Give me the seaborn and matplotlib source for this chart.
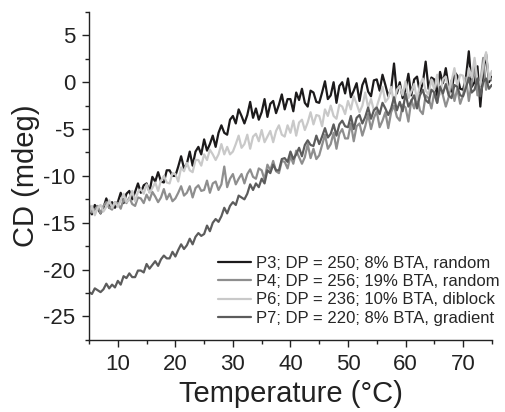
import matplotlib
matplotlib.use("Agg")
import matplotlib.pyplot as plt
from matplotlib.ticker import MultipleLocator
import numpy as np
import pandas as pd
import seaborn as sns

# temperature grid of the scans (degC), 0.5 degC steps
temperature = np.linspace(5, 75, 141)

p3 = [-13.6, -14.1, -13.1, -13.5, -14.0, -13.4, -12.4, -13.4, -12.8, -13.4,
      -12.8, -11.8, -12.9, -11.9, -11.6, -12.5, -11.7, -10.8, -11.8, -11.0,
      -10.8, -11.7, -10.1, -10.6, -9.6, -10.6, -10.7, -9.4, -9.4, -10.0,
      -10.0, -9.0, -7.9, -9.2, -8.7, -7.4, -8.9, -7.4, -6.9, -7.7,
      -6.1, -7.3, -6.6, -5.7, -6.9, -5.4, -4.6, -5.4, -5.6, -4.0,
      -3.6, -4.4, -2.9, -3.6, -4.4, -3.5, -2.1, -3.8, -2.8, -4.0,
      -3.2, -1.8, -3.7, -2.3, -2.0, -3.3, -2.4, -1.3, -2.9, -1.8,
      -1.8, -3.1, -1.1, -1.9, -0.7, -2.2, -2.6, -0.9, -1.1, -2.1,
      -2.2, -1.1, 0.1, -1.8, -1.4, 0.0, -2.2, -0.4, 0.0, -1.2,
      0.4, -1.6, -0.9, -0.1, -2.0, -0.3, 0.4, -1.0, -1.5, 0.2,
      0.3, -0.9, 0.8, -0.3, -1.5, -0.7, 2.0, -1.2, 0.0, -1.7,
      -0.8, 0.9, -1.4, 0.3, 0.6, -1.1, -0.1, 2.2, -0.7, 0.5,
      0.3, -1.5, 1.1, -0.1, 1.5, -0.5, -1.0, 1.1, 0.7, -0.7,
      -0.8, 0.5, 3.3, -0.5, 0.0, 1.7, -2.6, 1.1, 3.0, 0.0,
      0.6]

p4 = [-13.1, -13.9, -13.6, -13.2, -14.0, -13.2, -12.8, -13.4, -13.6, -12.8,
      -12.9, -13.5, -12.5, -12.9, -12.3, -13.0, -13.2, -12.3, -12.4, -12.9,
      -12.0, -12.6, -11.7, -12.2, -12.8, -12.3, -11.4, -12.5, -11.9, -12.7,
      -12.4, -11.8, -11.1, -12.1, -11.8, -11.1, -12.3, -11.3, -11.0, -11.6,
      -11.5, -10.5, -11.8, -10.8, -10.6, -11.5, -10.9, -9.0, -11.2, -10.3,
      -9.8, -10.9, -10.3, -9.8, -10.8, -9.8, -9.3, -10.1, -10.3, -9.2,
      -9.4, -10.4, -8.8, -9.4, -8.4, -9.5, -9.7, -8.4, -8.5, -9.2,
      -7.9, -8.7, -7.3, -8.0, -8.7, -8.0, -6.6, -8.1, -7.1, -8.2,
      -7.8, -6.7, -5.6, -7.1, -6.6, -5.4, -7.1, -5.5, -5.0, -6.0,
      -6.0, -4.4, -6.3, -4.7, -4.4, -5.7, -4.7, -3.4, -5.0, -3.8,
      -3.1, -4.8, -4.1, -3.2, -4.9, -3.2, -2.5, -3.7, -4.1, -2.4,
      -2.7, -4.2, -1.9, -2.8, -1.4, -3.0, -3.4, -1.4, -1.7, -2.8,
      -1.1, -2.2, -0.4, -1.4, -2.6, -1.6, 0.2, -2.0, -0.7, -2.3,
      -1.4, 0.5, -2.0, -0.1, 1.8, -1.4, -0.2, 2.6, -0.8, 0.7,
      0.2]

p6 = [-14.0, -13.2, -14.2, -13.4, -13.1, -13.8, -13.3, -12.6, -13.4, -12.8,
      -13.3, -12.6, -11.9, -12.8, -12.5, -11.6, -12.7, -11.7, -11.4, -11.9,
      -10.9, -11.8, -11.3, -10.7, -11.6, -10.5, -10.0, -10.7, -10.8, -9.7,
      -9.8, -10.6, -9.1, -9.5, -8.6, -9.4, -9.6, -8.3, -8.3, -8.9,
      -7.7, -8.3, -7.2, -7.7, -8.3, -7.7, -6.6, -7.7, -6.9, -7.7,
      -7.4, -6.6, -5.7, -7.0, -6.6, -5.6, -7.1, -5.8, -5.5, -6.3,
      -5.1, -6.4, -5.8, -5.2, -6.4, -5.2, -4.6, -5.6, -5.8, -4.6,
      -5.4, -4.1, -5.7, -4.3, -4.0, -5.1, -4.3, -3.2, -4.5, -3.5,
      -3.6, -4.7, -2.9, -3.6, -2.5, -3.6, -3.9, -2.4, -2.6, -3.4,
      -2.0, -2.9, -1.5, -2.3, -3.2, -2.5, -1.1, -2.7, -1.8, -3.0,
      -2.6, -1.6, -0.5, -2.1, -1.7, -0.5, -2.3, -0.8, -0.4, -1.4,
      0.1, -1.7, -1.0, -0.2, -1.9, -0.3, 0.4, -0.9, -1.3, 0.3,
      -0.8, 0.8, -1.3, 0.3, 0.6, -0.9, 0.1, 1.5, -0.4, 0.8,
      0.7, -0.9, 1.5, 0.5, 2.6, 0.2, -0.3, 1.8, 3.2, 0.3,
      1.2]

p7 = [-22.4, -22.6, -22.0, -22.2, -22.4, -22.1, -21.5, -22.0, -21.6, -21.9,
      -21.2, -21.6, -20.7, -20.9, -20.4, -20.8, -20.8, -20.1, -20.1, -20.3,
      -19.4, -19.9, -19.5, -19.1, -19.6, -18.9, -18.5, -18.8, -18.8, -18.1,
      -18.6, -17.9, -17.3, -17.8, -17.4, -16.7, -17.3, -16.5, -16.1, -16.4,
      -16.2, -15.3, -15.9, -15.0, -14.6, -14.9, -14.3, -13.4, -14.0, -13.2,
      -12.8, -13.1, -12.1, -12.3, -12.5, -11.9, -10.9, -11.5, -10.8, -11.2,
      -10.3, -10.8, -9.4, -9.7, -8.8, -9.4, -9.4, -8.2, -8.1, -8.5,
      -7.4, -8.2, -7.7, -7.0, -7.9, -6.7, -6.2, -6.7, -6.8, -5.7,
      -6.6, -5.8, -4.9, -5.9, -5.5, -4.5, -5.7, -4.5, -4.1, -4.7,
      -4.8, -3.6, -5.0, -3.8, -3.5, -4.4, -3.7, -2.7, -3.9, -3.0,
      -2.7, -3.4, -2.2, -2.8, -3.5, -2.8, -1.6, -3.0, -2.1, -3.1,
      -1.2, -2.6, -2.0, -1.4, -2.8, -1.4, -0.8, -1.9, -2.2, -0.8,
      -1.1, -2.2, -0.5, -1.2, -0.2, -1.4, -1.7, -0.3, -0.5, -1.4,
      -1.5, -0.6, 0.5, -1.1, -0.8, 0.4, -1.5, 0.0, 0.4, -0.7,
      -0.3]

labels = ["P3; DP = 250; 8% BTA, random",
          "P4; DP = 256; 19% BTA, random",
          "P6; DP = 236; 10% BTA, diblock",
          "P7; DP = 220; 8% BTA, gradient"]
colors = ["#1c1a1b", "#8e8e8e", "#c9c9c9", "#5c5c5c"]

frames = []
for lab, vals in zip(labels, [p3, p4, p6, p7]):
    frames.append(pd.DataFrame({"T": temperature, "CD": vals, "sample": lab}))
df = pd.concat(frames, ignore_index=True)

sns.set_theme(style="ticks")
plt.rcParams['font.family'] = ['Liberation Sans', 'DejaVu Sans']
plt.rcParams['axes.unicode_minus'] = False

fig = plt.figure(figsize=(5.06, 4.12), dpi=100)
ax = fig.add_axes([0.176, 0.175, 0.796, 0.796])

sns.lineplot(data=df, x="T", y="CD", hue="sample", palette=colors,
             estimator=None, sort=False, linewidth=1.6, ax=ax)

ax.set_xlim(5, 75)
ax.set_ylim(-27.5, 7.5)
ax.xaxis.set_major_locator(MultipleLocator(10))
ax.xaxis.set_minor_locator(MultipleLocator(5))
ax.yaxis.set_major_locator(MultipleLocator(5))
ax.yaxis.set_minor_locator(MultipleLocator(2.5))
ax.tick_params(which="major", direction="out", length=5, width=1, pad=5,
               labelsize=16, colors="#222222")
ax.tick_params(which="minor", direction="out", length=3, width=1, colors="#222222")
for s in ["top", "right"]:
    ax.spines[s].set_visible(False)
for s in ["left", "bottom"]:
    ax.spines[s].set_linewidth(1)
    ax.spines[s].set_color("#222222")

ax.set_xlabel("Temperature (\u00b0C)", fontsize=21, color="#222222", labelpad=4)
ax.set_ylabel("CD (mdeg)", fontsize=21, color="#222222", labelpad=2)

ax.legend(title=None, frameon=False, fontsize=12, loc="lower left",
          bbox_to_anchor=(0.32, 0.043), handlelength=2.0, handletextpad=0.3,
          labelspacing=0.2, borderaxespad=0, borderpad=0)

fig.savefig("out.png", dpi=100)
